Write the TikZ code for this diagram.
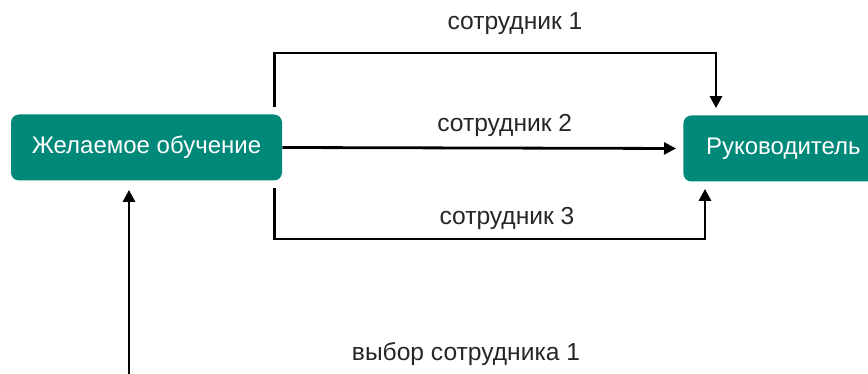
\documentclass[tikz,border=0pt]{standalone}
\usepackage{fontspec}
\setmainfont{Liberation Sans}
\usetikzlibrary{arrows.meta, positioning}
\definecolor{tealbox}{RGB}{0,136,121}
\begin{document}
\begin{tikzpicture}[x=0.5pt, y=-0.5pt, font=\fontsize{12.3}{14}\selectfont,
        block/.style={rectangle, fill=tealbox, text=white, rounded corners=4pt, minimum height=33pt, inner xsep=10pt, font=\fontsize{12}{14}\selectfont},
        lbl/.style={text=black!85, inner sep=1pt},
        line/.style={draw, line width=1.4pt, -{Triangle[length=6pt, width=6pt]}, shorten >=3.5pt}]
        
        \clip (0,0) rectangle (868,374);
        \useasboundingbox (0,0) rectangle (868,374);
        
        \node [block, minimum width=135.5pt] (want) at (146.5,147.5) {Желаемое обучение};
        \node [block, minimum width=100pt, anchor=west] (head) at (683,148.5) {Руководитель};
        
        \coordinate (t1) at (274.5,107);
        \coordinate (b1) at (274.5,188);
        \coordinate (src) at (129,380);
        
        \path [line] (t1) -- ++(0,-54) -| ([xshift=16.5pt]head.north west);
        \path [line] (want.east) -- node[lbl, pos=0.555, yshift=11.5pt] {сотрудник 2} (head.west);
        \path [line] (b1) -- ++(0,51) -| ([xshift=11pt]head.south west);
        \path [line, shorten >=4.5pt] (src) -- (src |- want.south);
        
        \node [lbl] (l1) at (515,24) {сотрудник 1};
        \node [lbl] (l3) at (507,218) {сотрудник 3};
        \node [lbl] (l4) at (466,354) {выбор сотрудника 1};
        
    \end{tikzpicture}
\end{document}
